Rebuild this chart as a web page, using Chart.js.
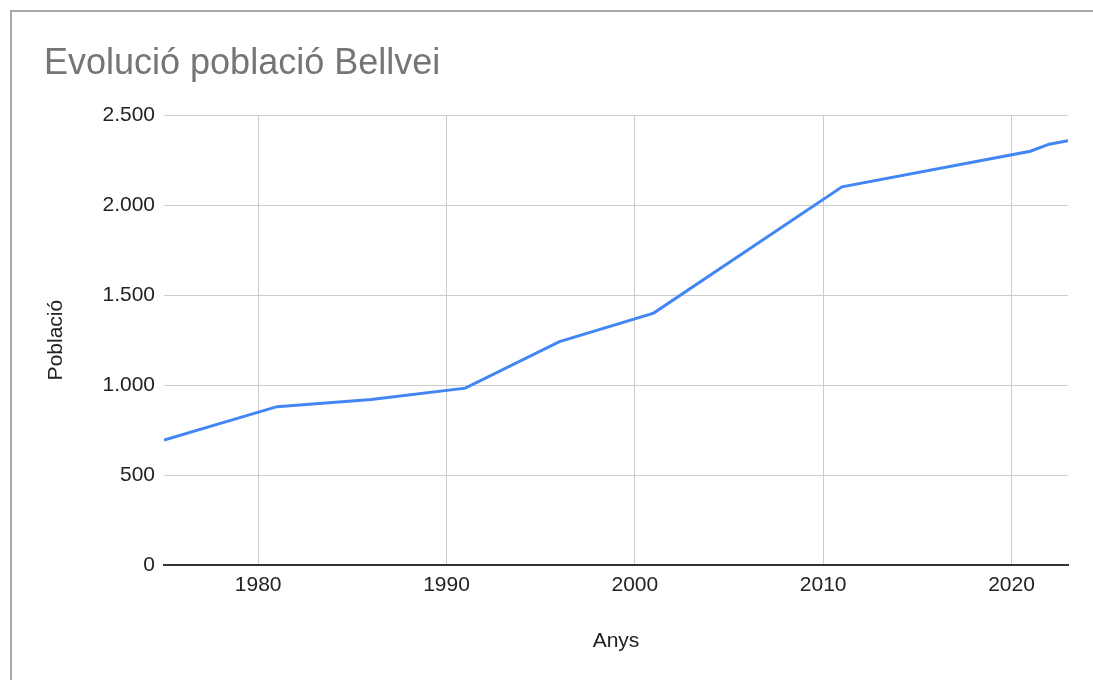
<!DOCTYPE html>
<html>
<head>
<meta charset="utf-8">
<script src="https://cdn.jsdelivr.net/npm/chart.js@4/dist/chart.umd.min.js"></script>
<style>
  html, body { margin: 0; padding: 0; background: #fff; width: 1093px; height: 680px; overflow: hidden; }
  #frame { position: absolute; left: 10px; top: 10px; width: 1200px; height: 800px; border: 2px solid #a8a8a8; box-sizing: border-box; }
  #c { position: absolute; left: 0; top: 0; }
</style>
</head>
<body>
<div id="frame"></div>
<canvas id="c" width="1093" height="680"></canvas>
<script>
const chartTitle = 'Evolució població Bellvei';
const xAxisTitle = 'Anys';
const yAxisTitle = 'Població';
const years = [1975, 1981, 1986, 1991, 1996, 2001, 2011, 2021, 2022, 2023];
const population = [694, 880, 920, 983, 1242, 1400, 2102, 2300, 2339, 2358];
const xTickValues = [1980, 1990, 2000, 2010, 2020];
const yTickValues = [0, 500, 1000, 1500, 2000, 2500];

function fmtThousands(v) {
  return String(v).replace(/\B(?=(\d{3})+(?!\d))/g, '.');
}

const FONT = "'Liberation Sans', Arial, Helvetica, sans-serif";

new Chart(document.getElementById('c'), {
  type: 'line',
  data: {
    datasets: [{
      label: yAxisTitle,
      data: years.map((y, i) => ({ x: y, y: population[i] })),
      borderColor: '#4285f4',
      borderWidth: 3,
      pointRadius: 0,
      tension: 0,
      fill: false
    }]
  },
  options: {
    responsive: false,
    animation: false,
    devicePixelRatio: 1,
    layout: { padding: { left: 44, right: 25, top: 0, bottom: 10 } },
    plugins: {
      legend: { display: false },
      tooltip: { enabled: false },
      title: {
        display: true,
        text: chartTitle,
        align: 'start',
        color: '#757575',
        font: { family: FONT, size: 36, weight: 'normal' },
        padding: { top: 42, bottom: 30 }
      }
    },
    scales: {
      x: {
        type: 'linear',
        min: 1975,
        max: 2023,
        afterBuildTicks: (scale) => { scale.ticks = xTickValues.map(v => ({ value: v })); },
        ticks: {
          includeBounds: false,
          autoSkip: false,
          maxRotation: 0,
          color: '#222',
          padding: 8,
          font: { family: FONT, size: 21 },
          callback: (v) => String(v)
        },
        grid: { color: '#cccccc', lineWidth: 1, drawTicks: false },
        border: { display: true, color: '#333333', width: 2 },
        title: {
          display: true,
          text: xAxisTitle,
          color: '#222',
          font: { family: FONT, size: 21 },
          padding: { top: 0, bottom: 16 }
        },
        afterFit: (scale) => { scale.height = 105; }
      },
      y: {
        type: 'linear',
        min: 0,
        max: 2500,
        afterBuildTicks: (scale) => { scale.ticks = yTickValues.map(v => ({ value: v })); },
        ticks: {
          color: '#222',
          padding: 9,
          font: { family: FONT, size: 21 },
          callback: (v) => fmtThousands(v)
        },
        grid: { color: (ctx) => ctx.tick && ctx.tick.value === 0 ? '#333333' : '#cccccc', lineWidth: 1, drawTicks: false },
        border: { display: false },
        title: {
          display: true,
          text: yAxisTitle,
          color: '#222',
          font: { family: FONT, size: 21 },
          padding: { top: 0, bottom: 0 }
        },
        afterFit: (scale) => { scale.width = 120; }
      }
    }
  }
});
</script>
</body>
</html>
